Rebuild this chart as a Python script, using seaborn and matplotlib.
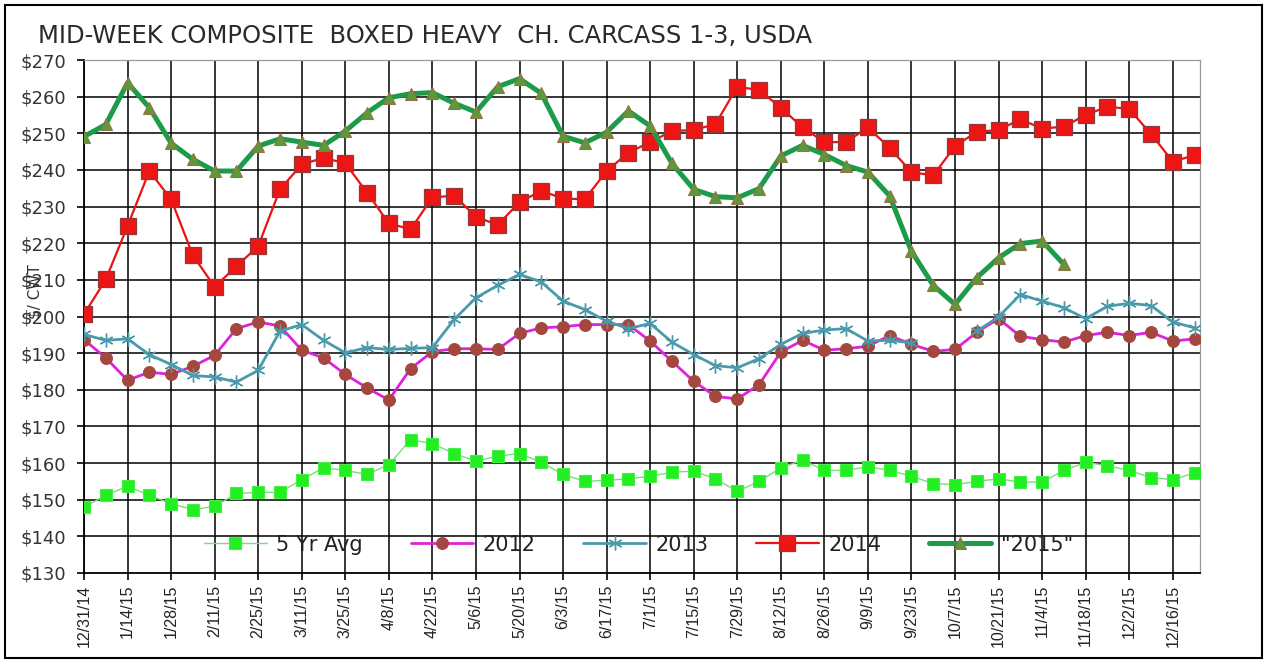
import numpy as np
import pandas as pd
import matplotlib
matplotlib.use("Agg")
import matplotlib.pyplot as plt
import seaborn as sns
from matplotlib.patches import Rectangle
from matplotlib.ticker import FixedLocator, FuncFormatter

# Weekly positions: 12/31/14 .. 12/23/15
weeks = list(range(52))
tick_labels = ["12/31/14", "1/14/15", "1/28/15", "2/11/15", "2/25/15", "3/11/15",
               "3/25/15", "4/8/15", "4/22/15", "5/6/15", "5/20/15", "6/3/15",
               "6/17/15", "7/1/15", "7/15/15", "7/29/15", "8/12/15", "8/26/15",
               "9/9/15", "9/23/15", "10/7/15", "10/21/15", "11/4/15", "11/18/15",
               "12/2/15", "12/16/15"]

avg_5yr = [148.0, 151.2, 153.7, 151.2, 148.9, 147.3, 148.2, 151.7, 152.0, 152.0,
           155.5, 158.7, 158.0, 156.9, 159.6, 166.4, 165.3, 162.6, 160.5, 161.9,
           162.6, 160.2, 156.9, 155.0, 155.3, 155.7, 156.4, 157.5, 157.8, 155.7,
           152.3, 155.0, 158.7, 160.8, 158.0, 158.0, 159.0, 158.0, 156.4, 154.4,
           154.1, 155.0, 155.7, 154.8, 154.8, 158.0, 160.2, 159.3, 158.0, 156.0,
           155.5, 157.3]
y2012 = [193.7, 188.7, 182.6, 184.8, 184.2, 186.4, 189.4, 196.7, 198.5, 197.4,
         190.8, 188.7, 184.2, 180.5, 177.2, 185.8, 190.4, 191.2, 191.2, 191.0,
         195.4, 196.9, 197.2, 197.8, 197.8, 197.8, 193.3, 187.8, 182.3, 178.2,
         177.5, 181.4, 190.3, 193.5, 190.8, 191.2, 191.9, 194.8, 192.4, 190.5,
         191.0, 195.7, 199.4, 194.6, 193.7, 193.0, 194.8, 195.7, 194.8, 195.7,
         193.3, 193.9]
y2013 = [195.1, 193.5, 193.9, 189.6, 186.9, 183.9, 183.5, 182.1, 185.3, 196.0,
         197.8, 193.5, 190.1, 191.5, 191.0, 191.3, 191.5, 199.2, 205.1, 208.5,
         211.5, 209.4, 204.2, 201.9, 198.7, 196.7, 198.1, 193.0, 189.6, 186.6,
         186.0, 188.5, 192.4, 195.4, 196.3, 196.7, 193.3, 193.5, 192.8, np.nan,
         np.nan, 196.0, 199.9, 206.0, 204.2, 202.4, 199.4, 202.8, 203.6, 203.0,
         198.5, 196.9]
y2014 = [200.6, 210.1, 224.7, 239.7, 232.0, 216.7, 208.1, 213.7, 219.2, 234.7,
         241.5, 243.3, 241.8, 233.8, 225.4, 223.8, 232.5, 233.0, 227.2, 225.0,
         231.2, 234.3, 232.2, 232.0, 239.7, 244.7, 247.6, 250.6, 250.9, 252.5,
         262.7, 261.8, 257.0, 251.6, 247.6, 247.6, 251.6, 246.0, 239.4, 238.5,
         246.5, 250.4, 250.9, 253.8, 251.3, 251.8, 255.0, 257.3, 256.6, 249.8,
         242.3, 244.0]
y2015 = [249.1, 252.4, 263.8, 257.0, 247.3, 242.9, 239.7, 239.7, 246.5, 248.5,
         247.6, 246.7, 250.6, 255.6, 259.7, 260.8, 261.1, 258.2, 255.8, 262.7,
         264.9, 260.9, 249.2, 247.4, 250.3, 256.1, 252.0, 241.8, 234.7, 232.7,
         232.4, 234.9, 243.8, 246.7, 244.2, 241.2, 239.4, 232.9, 217.8, 208.5,
         203.3, 210.6, 216.0, 219.9, 220.6, 214.2]

series_names = ["5 Yr Avg", "2012", "2013", "2014", '"2015"']
series_values = [avg_5yr, y2012, y2013, y2014, y2015]

styles = {
    "5 Yr Avg": dict(color="#77e077", lw=1.0, marker="s", ms=8.5,
                     mfc="#22ee22", mec="#44f044", mew=0.8),
    "2012": dict(color="#dd22dd", lw=2.0, marker="o", ms=8.5,
                 mfc="#a5473f", mec="#a5473f", mew=0.8),
    "2013": dict(color="#4b9aab", lw=2.0, marker=(6, 2, 0), ms=10,
                 mfc="#4b9aab", mec="#4b9aab", mew=1.0),
    "2014": dict(color="#ee1111", lw=1.6, marker="s", ms=11,
                 mfc="#ee1515", mec="#8e3b3b", mew=0.9),
    '"2015"': dict(color="#1c9c48", lw=3.6, marker="^", ms=8,
                   mfc="#5a9a38", mec="#9a7048", mew=0.8),
}

sns.set_theme(style="white")
plt.rcParams["font.family"] = ["DejaVu Sans"]

W, H = 1266, 660
fig = plt.figure(figsize=(W / 100, H / 100), dpi=100)
left, right, top, bottom = 84, 1200, 60, 573
ax = fig.add_axes([left / W, 1 - bottom / H, (right - left) / W, (bottom - top) / H])

for name, values in zip(series_names, series_values):
    df = pd.DataFrame({"week": weeks[:len(values)], "price": values})
    # split at missing weeks so the line breaks there
    valid = df["price"].notna()
    group = (~valid).cumsum()
    first = True
    for _, seg in df[valid].groupby(group[valid]):
        sns.lineplot(data=seg, x="week", y="price", ax=ax, estimator=None,
                     sort=False, label=name if first else "_" + name,
                     zorder=3, **styles[name])
        first = False

ax.set_xlim(0, 51.25)
ax.set_ylim(130, 270)
ax.xaxis.set_major_locator(FixedLocator(list(range(0, 52, 2))))
ax.set_xticklabels(tick_labels, rotation=90, fontfamily="Liberation Sans",
                   fontsize=11.5, color="#222222")
ax.yaxis.set_major_locator(FixedLocator(list(range(130, 271, 10))))
ax.yaxis.set_major_formatter(FuncFormatter(lambda v, p: f"${v:.0f}"))
for lab in ax.get_yticklabels():
    lab.set_fontsize(13)
    lab.set_color("#333333")
ax.set_xlabel("")
ax.set_ylabel("")

ax.tick_params(axis="x", direction="out", length=5, width=1.2, color="black",
               pad=3.5, bottom=True)
ax.tick_params(axis="y", direction="out", length=5, width=1.2, color="black",
               pad=8, left=True)

ax.grid(True, color="black", lw=1.1, zorder=1)
ygl = ax.yaxis.get_gridlines()
ygl[0].set_visible(False)
ygl[-1].set_visible(False)

for s in ["left", "bottom"]:
    ax.spines[s].set_color("black")
    ax.spines[s].set_linewidth(1.3)
for s in ["top", "right"]:
    ax.spines[s].set_color("#9a9a9a")
    ax.spines[s].set_linewidth(0.9)

handles, labels = ax.get_legend_handles_labels()
ax.legend(handles, labels, loc="center", bbox_to_anchor=(0.497, 0.055),
          ncol=5, frameon=False, fontsize=15, handlelength=3.0,
          handletextpad=0.45, columnspacing=2.3, numpoints=1,
          labelcolor="#222222")

fig.text(38 / W, 1 - 36 / H, "MID-WEEK COMPOSITE  BOXED HEAVY  CH. CARCASS 1-3, USDA",
         ha="left", va="center", fontsize=17.5, color="#2a2a2a")
fig.text(35 / W, 1 - 292 / H, "$/ CWT", rotation=90, ha="center", va="center",
         fontsize=11, color="#333333")

fig.patches.append(Rectangle((5 / W, 2 / H), (1262 - 5) / W, (655 - 2) / H,
                             transform=fig.transFigure, fill=False,
                             ec="black", lw=1.5))

fig.savefig("out.png", dpi=100, facecolor="white")
